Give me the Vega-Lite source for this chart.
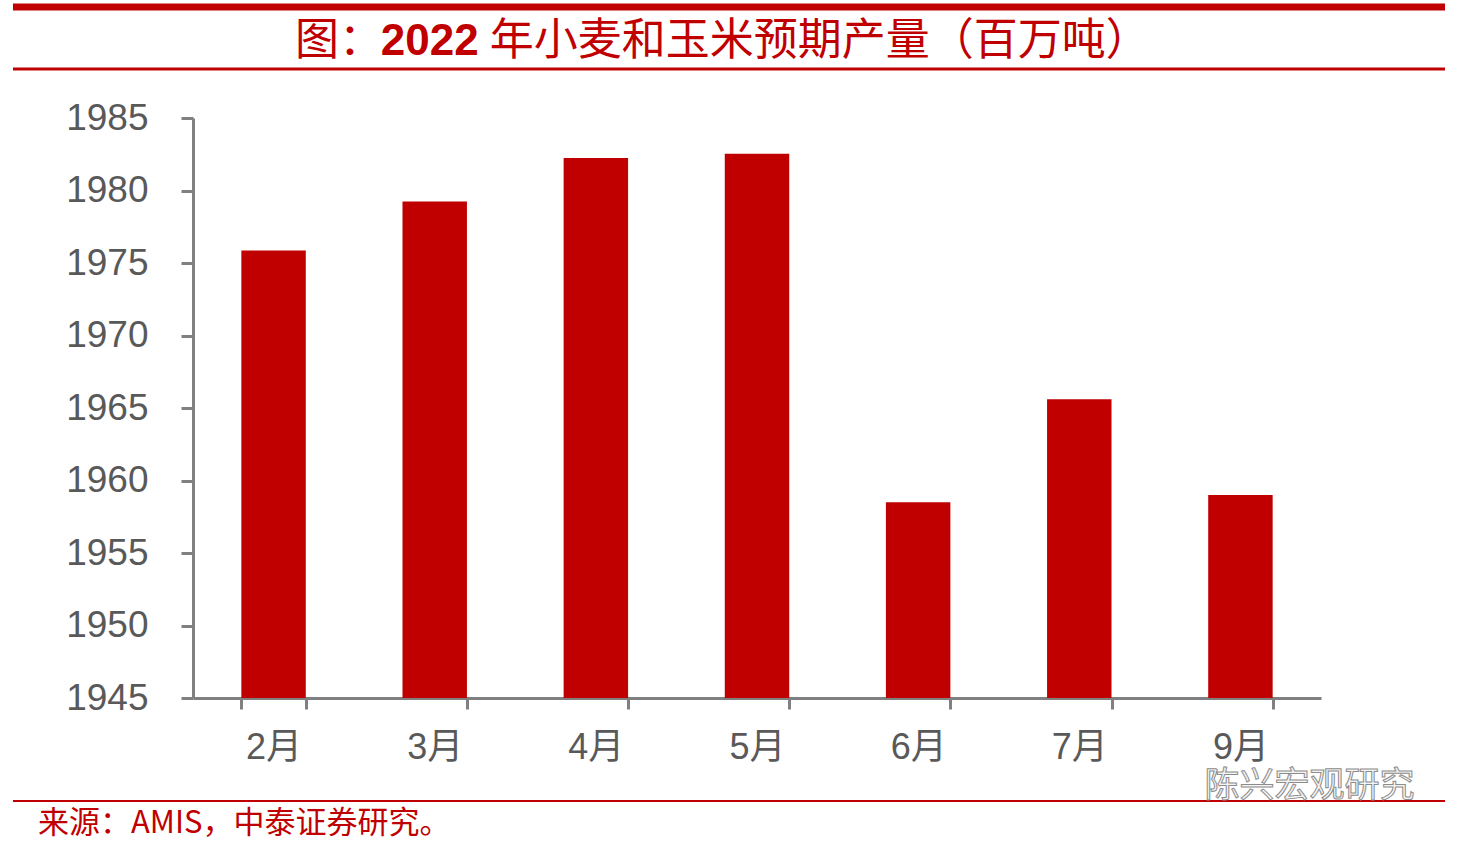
{
  "$schema": "https://vega.github.io/schema/vega-lite/v6.json",
  "background": "white",
  "padding": {"left": 9, "top": 3, "right": 0, "bottom": 0},
  "spacing": 0,
  "config": {
    "view": {"stroke": null},
    "font": "Liberation Sans"
  },
  "vconcat": [
    {
      "width": 1252,
      "height": 92,
      "data": {"values": [{"prefix": "图：", "year": "2022", "rest": "年小麦和玉米预期产量（百万吨）"}]},
      "layer": [
        {
          "mark": {"type": "rule", "color": "#c00000", "strokeWidth": 7},
          "encoding": {
            "x": {"datum": -0.1438, "type": "quantitative", "scale": {"domain": [0, 1]}, "axis": null},
            "x2": {"datum": 1},
            "y": {"datum": 1, "type": "quantitative", "scale": {"domain": [0, 1]}, "axis": null}
          }
        },
        {
          "mark": {"type": "rule", "color": "#c00000", "strokeWidth": 3},
          "encoding": {
            "x": {"datum": -0.1438, "type": "quantitative", "scale": {"domain": [0, 1]}, "axis": null},
            "x2": {"datum": 1},
            "y": {"datum": 0.326, "type": "quantitative", "scale": {"domain": [0, 1]}, "axis": null}
          }
        },
        {
          "mark": {"type": "text", "align": "left", "baseline": "middle", "font": "Noto Sans CJK SC", "fontSize": 44, "color": "#c00000"},
          "encoding": {
            "text": {"field": "prefix"},
            "x": {"datum": 0.0815, "type": "quantitative", "scale": {"domain": [0, 1]}, "axis": null},
            "y": {"datum": 0.62, "type": "quantitative", "scale": {"domain": [0, 1]}, "axis": null}
          }
        },
        {
          "mark": {"type": "text", "align": "left", "baseline": "middle", "font": "Liberation Sans", "fontWeight": "bold", "fontSize": 44, "color": "#c00000"},
          "encoding": {
            "text": {"field": "year"},
            "x": {"datum": 0.150, "type": "quantitative", "scale": {"domain": [0, 1]}, "axis": null},
            "y": {"datum": 0.62, "type": "quantitative", "scale": {"domain": [0, 1]}, "axis": null}
          }
        },
        {
          "mark": {"type": "text", "align": "left", "baseline": "middle", "font": "Noto Sans CJK SC", "fontSize": 44, "color": "#c00000"},
          "encoding": {
            "text": {"field": "rest"},
            "x": {"datum": 0.237, "type": "quantitative", "scale": {"domain": [0, 1]}, "axis": null},
            "y": {"datum": 0.62, "type": "quantitative", "scale": {"domain": [0, 1]}, "axis": null}
          }
        }
      ]
    },
    {
      "hconcat": [
        {
          "width": 1128,
          "height": 580,
          "data": {
            "values": [
              {"month": "2月", "value": 1975.86},
              {"month": "3月", "value": 1979.24},
              {"month": "4月", "value": 1982.24},
              {"month": "5月", "value": 1982.54},
              {"month": "6月", "value": 1958.5},
              {"month": "7月", "value": 1965.6},
              {"month": "9月", "value": 1959.0}
            ]
          },
          "mark": {"type": "bar", "color": "#c00000"},
          "encoding": {
            "x": {
              "field": "month",
              "type": "ordinal",
              "sort": null,
              "scale": {"paddingInner": 0.6, "paddingOuter": 0.3},
              "axis": {
                "title": null,
                "labelAngle": 0,
                "tickBand": "extent",
                "domainColor": "#808080",
                "domainWidth": 3,
                "tickColor": "#808080",
                "tickWidth": 3,
                "tickSize": 11,
                "labelFont": "Liberation Sans, Noto Sans CJK SC",
                "labelFontSize": 36,
                "labelColor": "#595959",
                "labelPadding": 21
              }
            },
            "y": {
              "field": "value",
              "type": "quantitative",
              "scale": {"domain": [1945, 1985], "nice": false, "zero": false},
              "axis": {
                "title": null,
                "grid": false,
                "values": [1945, 1950, 1955, 1960, 1965, 1970, 1975, 1980, 1985],
                "format": "d",
                "domainColor": "#808080",
                "domainWidth": 3,
                "tickColor": "#808080",
                "tickWidth": 3,
                "tickSize": 12,
                "labelFont": "Liberation Sans",
                "labelFontSize": 37,
                "labelColor": "#595959",
                "labelPadding": 33,
                "minExtent": 180,
                "maxExtent": 180
              }
            },
            "y2": {"datum": 1945}
          }
        }
      ]
    },
    {
      "width": 1252,
      "height": 82,
      "data": {"values": [{"source": "来源：AMIS，中泰证券研究。", "watermark": "陈兴宏观研究"}]},
      "layer": [
        {
          "mark": {"type": "rule", "color": "#c00000", "strokeWidth": 2},
          "encoding": {
            "x": {"datum": -0.1438, "type": "quantitative", "scale": {"domain": [0, 1]}, "axis": null},
            "x2": {"datum": 1},
            "y": {"datum": 0.56, "type": "quantitative", "scale": {"domain": [0, 1]}, "axis": null}
          }
        },
        {
          "mark": {"type": "text", "align": "left", "baseline": "middle", "font": "Noto Sans CJK SC", "fontSize": 31, "color": "#c00000"},
          "encoding": {
            "text": {"field": "source"},
            "x": {"datum": -0.1238, "type": "quantitative", "scale": {"domain": [0, 1]}, "axis": null},
            "y": {"datum": 0.285, "type": "quantitative", "scale": {"domain": [0, 1]}, "axis": null}
          }
        },
        {
          "mark": {"type": "text", "align": "left", "baseline": "middle", "font": "Noto Sans CJK SC", "fontSize": 35, "color": "#f4f4f4", "stroke": "#8c8c8c", "strokeWidth": 1},
          "encoding": {
            "text": {"field": "watermark"},
            "x": {"datum": 0.808, "type": "quantitative", "scale": {"domain": [0, 1]}, "axis": null},
            "y": {"datum": 0.75, "type": "quantitative", "scale": {"domain": [0, 1]}, "axis": null}
          }
        }
      ]
    }
  ]
}
